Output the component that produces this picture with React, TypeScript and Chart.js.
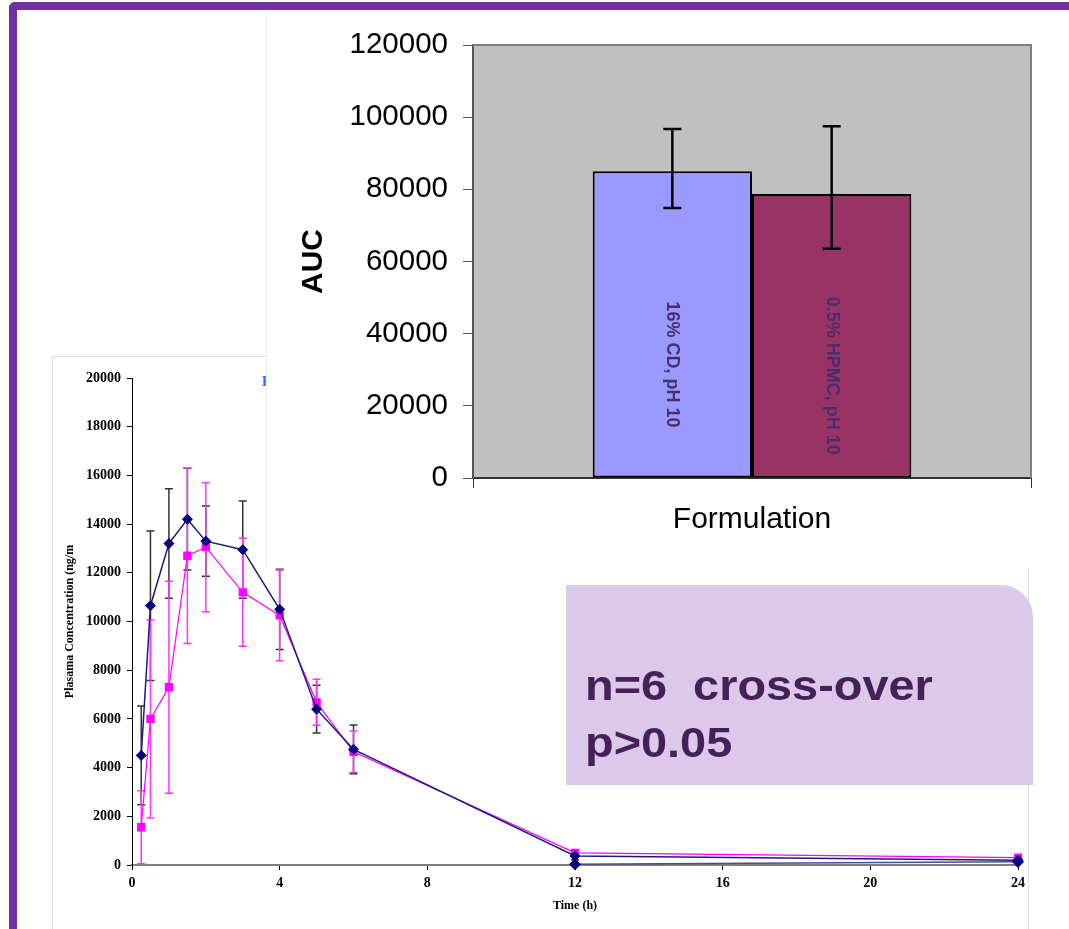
import React, { useEffect, useRef } from "react";
import { Chart, registerables } from "chart.js";

Chart.register(...registerables);

// ---------- Line chart data (plasma concentration vs time) ----------
const timePoints = [0.25, 0.5, 1, 1.5, 2, 3, 4, 5, 6, 12, 24];
const navyMean = [4500, 10650, 13200, 14200, 13300, 12950, 10500, 6400, 4750, 370, 200];
const navySD = [2030, 3070, 2250, 2090, 1440, 2000, 1650, 980, 1000, 150, 50];
const magentaMean = [1550, 6000, 7300, 12700, 13050, 11200, 10250, 6680, 4650, 500, 300];
const magentaSD = [1500, 4070, 4350, 3600, 2645, 2215, 1860, 945, 850, 60, 60];
const navyLowTimes = [12, 24];
const navyLowValues = [30, 130];
const timeTicks = [0, 4, 8, 12, 16, 20, 24];
const concTicks = [0, 2000, 4000, 6000, 8000, 10000, 12000, 14000, 16000, 18000, 20000];

// ---------- Bar chart data (AUC) ----------
const formulations = ["16% CD, pH 10", "0.5% HPMC, pH 10"];
const aucMeans = [85000, 78700];
const aucHigh = [96700, 97450];
const aucLow = [74800, 63500];
const aucTicks = [0, 20000, 40000, 60000, 80000, 100000, 120000];
const barColors = ["#9999FF", "#993366"];

const SERIF = '"Liberation Serif", "Times New Roman", serif';
const SANS = '"Liberation Sans", Arial, sans-serif';

const lineErrorPlugin = {
  id: "lineErrors",
  beforeDatasetsDraw(chart: any) {
    const { ctx, scales } = chart;
    const x = scales.x;
    const y = scales.y;
    chart.data.datasets.forEach((ds: any) => {
      if (!ds.errors) return;
      ctx.save();
      ctx.strokeStyle = ds.errorColor;
      ctx.lineWidth = 1.5;
      ds.data.forEach((p: any, j: number) => {
        const sd = ds.errors[j];
        const px = x.getPixelForValue(p.x);
        const top = y.getPixelForValue(p.y + sd);
        const bot = y.getPixelForValue(Math.max(0, p.y - sd));
        ctx.beginPath();
        ctx.moveTo(px, top);
        ctx.lineTo(px, bot);
        ctx.moveTo(px - 4, top);
        ctx.lineTo(px + 4, top);
        ctx.moveTo(px - 4, bot);
        ctx.lineTo(px + 4, bot);
        ctx.stroke();
      });
      ctx.restore();
    });
  },
};

const plotBgPlugin = {
  id: "plotBg",
  beforeDraw(chart: any) {
    const { ctx, chartArea: a } = chart;
    ctx.save();
    ctx.fillStyle = "#C0C0C0";
    ctx.fillRect(a.left, a.top, a.right - a.left, a.bottom - a.top);
    ctx.restore();
  },
  afterDraw(chart: any) {
    const { ctx, chartArea: a } = chart;
    ctx.save();
    ctx.strokeStyle = "#808080";
    ctx.lineWidth = 2;
    ctx.beginPath();
    ctx.moveTo(a.left, a.top);
    ctx.lineTo(a.right, a.top);
    ctx.lineTo(a.right, a.bottom);
    ctx.stroke();
    ctx.restore();
  },
};

const barExtrasPlugin = {
  id: "barExtras",
  afterDatasetsDraw(chart: any) {
    const { ctx } = chart;
    const y = chart.scales.y;
    chart.data.datasets.forEach((ds: any, i: number) => {
      const meta = chart.getDatasetMeta(i);
      const bar: any = meta.data[0];
      if (!bar) return;
      // label inside bar, rotated
      ctx.save();
      const cy = (bar.y + bar.base) / 2 + 40;
      ctx.translate(bar.x, cy);
      ctx.rotate(Math.PI / 2);
      ctx.font = `bold 18px ${SANS}`;
      ctx.fillStyle = "#4a2d6e";
      ctx.textAlign = "center";
      ctx.textBaseline = "middle";
      ctx.fillText(ds.label, 0, 0);
      ctx.restore();
      // error bar
      const top = y.getPixelForValue(ds.errHigh);
      const bot = y.getPixelForValue(ds.errLow);
      ctx.save();
      ctx.strokeStyle = "#000";
      ctx.lineWidth = 2.5;
      ctx.beginPath();
      ctx.moveTo(bar.x, top);
      ctx.lineTo(bar.x, bot);
      ctx.moveTo(bar.x - 9, top);
      ctx.lineTo(bar.x + 9, top);
      ctx.moveTo(bar.x - 9, bot);
      ctx.lineTo(bar.x + 9, bot);
      ctx.stroke();
      ctx.restore();
    });
  },
};

export default function App() {
  const lineRef = useRef<HTMLCanvasElement>(null);
  const barRef = useRef<HTMLCanvasElement>(null);

  useEffect(() => {
    const serifBold = (size: number) => ({ family: SERIF, size, weight: "bold" as const });

    const lineChart = new Chart(lineRef.current!, {
      type: "line",
      data: {
        datasets: [
          {
            label: "navy",
            data: timePoints.map((t, i) => ({ x: t, y: navyMean[i] })),
            borderColor: "#1b1b7a",
            backgroundColor: "#000080",
            borderWidth: 1.5,
            pointStyle: "rectRot",
            pointRadius: 5,
            pointBorderColor: "#000080",
            pointBackgroundColor: "#000080",
            pointBorderWidth: 1,
            clip: false,
            errors: navySD,
            errorColor: "#333333",
          } as any,
          {
            label: "navy-low",
            data: navyLowTimes.map((t, i) => ({ x: t, y: navyLowValues[i] })),
            borderColor: "#4a4a90",
            backgroundColor: "#000080",
            borderWidth: 1.5,
            pointStyle: "rectRot",
            pointRadius: 5,
            pointBorderColor: "#000080",
            pointBackgroundColor: "#000080",
            clip: false,
          } as any,
          {
            label: "magenta",
            data: timePoints.map((t, i) => ({ x: t, y: magentaMean[i] })),
            borderColor: "#FF00FF",
            backgroundColor: "#FF00FF",
            borderWidth: 1.2,
            pointStyle: "rect",
            pointRadius: 5,
            pointBorderColor: "#FF00FF",
            pointBackgroundColor: "#FF00FF",
            clip: false,
            errors: magentaSD,
            errorColor: "#FF33FF",
          } as any,
        ],
      },
      options: {
        animation: false,
        responsive: false,
        maintainAspectRatio: false,
        layout: { padding: { left: 0, right: 11, top: 22, bottom: 0 } },
        plugins: { legend: { display: false }, tooltip: { enabled: false }, title: { display: false } },
        scales: {
          x: {
            type: "linear",
            min: 0,
            max: 24,
            afterBuildTicks: (s: any) => {
              s.ticks = timeTicks.map((v) => ({ value: v }));
            },
            ticks: { font: serifBold(14), color: "#000", padding: 5, maxRotation: 0, callback: (v: any) => String(v) },
            grid: { drawOnChartArea: false, drawTicks: true, tickLength: 5, color: "#000" },
            border: { color: "#808080", width: 2 },
            title: { display: true, text: "Time (h)", font: serifBold(12), color: "#000", padding: { top: 0, bottom: 16 } },
            afterFit: (s: any) => {
              s.height = 64;
              s.paddingLeft = 0;
              s.paddingRight = 0;
            },
          },
          y: {
            type: "linear",
            min: 0,
            max: 20000,
            afterBuildTicks: (s: any) => {
              s.ticks = concTicks.map((v) => ({ value: v }));
            },
            ticks: { font: serifBold(14), color: "#000", padding: 6, callback: (v: any) => String(v) },
            grid: { drawOnChartArea: false, drawTicks: true, tickLength: 5, color: "#000" },
            border: { color: "#000", width: 1 },
            title: { display: true, text: "Plasama Concentration (ng/m", font: serifBold(12), color: "#000", padding: { top: 11, bottom: 0 } },
            afterFit: (s: any) => {
              s.width = 80;
              s.paddingTop = 0;
              s.paddingBottom = 0;
            },
          },
        },
      },
      plugins: [lineErrorPlugin],
    } as any);

    const barChart = new Chart(barRef.current!, {
      type: "bar",
      data: {
        labels: [""],
        datasets: formulations.map((name, i) => ({
          label: name,
          data: [aucMeans[i]],
          backgroundColor: barColors[i],
          borderColor: "#000",
          borderWidth: 2,
          borderSkipped: false,
          categoryPercentage: 0.571,
          barPercentage: 1,
          errHigh: aucHigh[i],
          errLow: aucLow[i],
        })) as any,
      },
      options: {
        animation: false,
        responsive: false,
        maintainAspectRatio: false,
        layout: { padding: { left: 0, right: 38, top: 34, bottom: 0 } },
        plugins: { legend: { display: false }, tooltip: { enabled: false }, title: { display: false } },
        scales: {
          x: {
            ticks: { display: true, font: { family: SANS, size: 20 }, color: "#000" },
            grid: { offset: true, drawOnChartArea: false, drawTicks: true, tickLength: 10, color: "#333" },
            border: { color: "#333", width: 2 },
            title: { display: true, text: "Formulation", font: { family: SANS, size: 30 }, color: "#000", padding: { top: 0, bottom: 30 } },
            afterFit: (s: any) => {
              s.height = 90;
              s.paddingLeft = 0;
              s.paddingRight = 0;
            },
          },
          y: {
            min: 0,
            max: 120000,
            afterBuildTicks: (s: any) => {
              s.ticks = aucTicks.map((v) => ({ value: v }));
            },
            ticks: { font: { family: SANS, size: 29.5 }, color: "#000", padding: 15, callback: (v: any) => String(v) },
            grid: { drawOnChartArea: false, drawTicks: true, tickLength: 10, color: "#555" },
            border: { color: "#555", width: 2 },
            title: { display: true, text: "AUC", font: { family: SANS, size: 30, weight: "bold" }, color: "#000", padding: { top: 29, bottom: 0 } },
            afterFit: (s: any) => {
              s.width = 206;
              s.paddingTop = 0;
              s.paddingBottom = 0;
            },
          },
        },
      },
      plugins: [plotBgPlugin, barExtrasPlugin],
    } as any);

    return () => {
      lineChart.destroy();
      barChart.destroy();
    };
  }, []);

  return (
    <div
      style={{
        position: "fixed",
        left: 0,
        top: 0,
        width: 1069,
        height: 929,
        overflow: "hidden",
        background: "#fff",
      }}
    >
      {/* line chart panel */}
      <canvas
        ref={lineRef}
        width={977}
        height={573}
        style={{ position: "absolute", left: 52, top: 356, width: 977, height: 573, zIndex: 1, background: "#fff" }}
      />
      <div
        style={{
          position: "absolute",
          left: 52,
          top: 356,
          width: 977,
          height: 600,
          boxSizing: "border-box",
          borderTop: "1px solid #dcdcdc",
          borderLeft: "1px solid #dcdcdc",
          borderRight: "1px solid #dcdcdc",
          zIndex: 1,
          pointerEvents: "none",
        }}
      />
      <span
        style={{
          position: "absolute",
          left: 262,
          top: 375,
          fontFamily: SERIF,
          fontWeight: "bold",
          fontSize: 14,
          lineHeight: "14px",
          color: "#3366FF",
          zIndex: 1,
          whiteSpace: "nowrap",
        }}
      >
        F
      </span>

      {/* bar chart panel */}
      <div
        style={{
          position: "absolute",
          left: 266,
          top: 10,
          width: 803,
          height: 558,
          background: "#fff",
          zIndex: 2,
          borderLeft: "1px solid #ececec",
          boxSizing: "border-box",
        }}
      >
        <canvas
          ref={barRef}
          width={802}
          height={557}
          style={{ position: "absolute", left: 0, top: 1, width: 802, height: 557 }}
        />
      </div>

      {/* annotation box */}
      <div
        style={{
          position: "absolute",
          left: 566,
          top: 585,
          width: 467,
          height: 200,
          background: "#DCC8E8",
          borderTopRightRadius: 32,
          zIndex: 3,
        }}
      >
        <div
          style={{
            position: "absolute",
            left: 19,
            top: 72,
            fontFamily: SANS,
            fontWeight: "bold",
            fontSize: 43,
            lineHeight: "57px",
            color: "#45205a",
            whiteSpace: "pre",
            transform: "scaleX(1.09)",
            transformOrigin: "left top",
          }}
        >
          {"n=6  cross-over\np>0.05"}
        </div>
      </div>

      {/* purple slide frame */}
      <div
        style={{
          position: "absolute",
          left: 9,
          top: 2,
          width: 1100,
          height: 1000,
          boxSizing: "border-box",
          borderTop: "8px solid #7030A0",
          borderLeft: "8px solid #7030A0",
          borderTopLeftRadius: 6,
          zIndex: 4,
          pointerEvents: "none",
        }}
      />
    </div>
  );
}
